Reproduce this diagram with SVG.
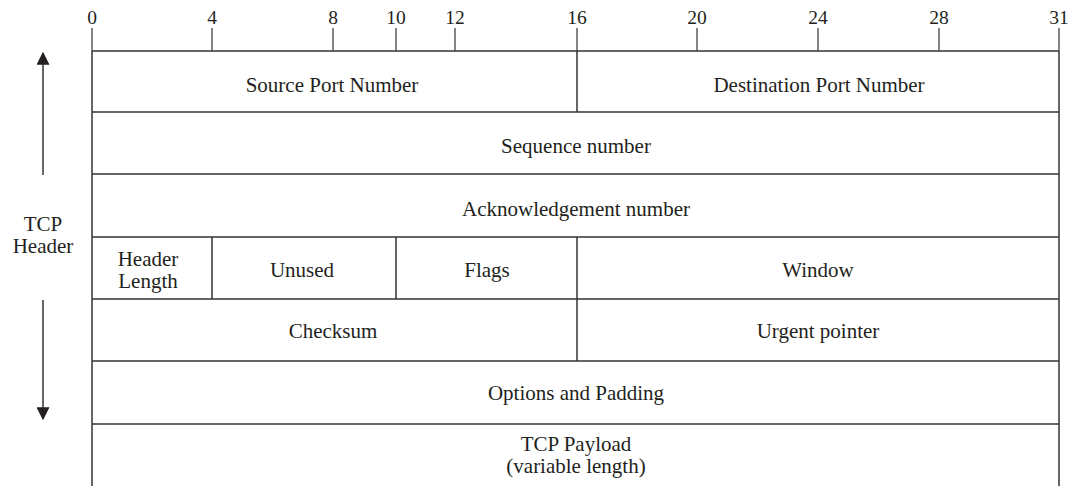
<svg xmlns="http://www.w3.org/2000/svg" width="1082" height="486" viewBox="0 0 1082 486">
<style>
text{font-family:"Liberation Serif","Times New Roman",serif;font-size:21px;fill:#231f20;text-anchor:middle}
text.num{font-size:19.5px}
.ln{stroke:#333;stroke-width:1.5;fill:none}
.tk{stroke:#333;stroke-width:1.2}
</style>
<defs>
<marker id="ah" viewBox="0 0 10 10" refX="9" refY="5" markerWidth="13" markerHeight="13" markerUnits="userSpaceOnUse" orient="auto">
<path d="M0,0 L10,5 L0,10 z" fill="#231f20"/>
</marker>
</defs>
<rect width="1082" height="486" fill="#fff"/>
<g id="ruler">
<line class="tk" x1="92" y1="28" x2="92" y2="51"/>
<line class="tk" x1="212" y1="28" x2="212" y2="51"/>
<line class="tk" x1="333" y1="28" x2="333" y2="51"/>
<line class="tk" x1="396" y1="28" x2="396" y2="51"/>
<line class="tk" x1="455" y1="28" x2="455" y2="51"/>
<line class="tk" x1="577" y1="28" x2="577" y2="51"/>
<line class="tk" x1="697" y1="28" x2="697" y2="51"/>
<line class="tk" x1="818" y1="28" x2="818" y2="51"/>
<line class="tk" x1="939" y1="28" x2="939" y2="51"/>
<line class="tk" x1="1059" y1="28" x2="1059" y2="51"/>
<text class="num" x="92" y="24">0</text>
<text class="num" x="212" y="24">4</text>
<text class="num" x="333" y="24">8</text>
<text class="num" x="396" y="24">10</text>
<text class="num" x="455" y="24">12</text>
<text class="num" x="577" y="24">16</text>
<text class="num" x="697" y="24">20</text>
<text class="num" x="818" y="24">24</text>
<text class="num" x="939" y="24">28</text>
<text class="num" x="1059" y="24">31</text>
</g>
<g id="connectors">
<line class="ln" x1="43" y1="175" x2="43" y2="53" marker-end="url(#ah)"/>
<line class="ln" x1="43" y1="300" x2="43" y2="419" marker-end="url(#ah)"/>
</g>
<g id="header-label">
<text x="43" y="231">TCP</text>
<text x="43" y="253">Header</text>
</g>
<g id="frame">
<line class="ln" x1="92" y1="51" x2="92" y2="486"/>
<line class="ln" x1="1059" y1="51" x2="1059" y2="486"/>
<line class="ln" x1="92" y1="51" x2="1059" y2="51"/>
<line class="ln" x1="92" y1="112" x2="1059" y2="112"/>
<line class="ln" x1="92" y1="174" x2="1059" y2="174"/>
<line class="ln" x1="92" y1="237" x2="1059" y2="237"/>
<line class="ln" x1="92" y1="299" x2="1059" y2="299"/>
<line class="ln" x1="92" y1="361" x2="1059" y2="361"/>
<line class="ln" x1="92" y1="424" x2="1059" y2="424"/>
</g>
<g id="source-port"><text x="332" y="92">Source Port Number</text></g>
<g id="dest-port"><line class="ln" x1="577" y1="51" x2="577" y2="112"/><text x="819" y="92">Destination Port Number</text></g>
<g id="sequence"><text x="576" y="153">Sequence number</text></g>
<g id="ack"><text x="576" y="216">Acknowledgement number</text></g>
<g id="header-length"><text x="148" y="266">Header</text><text x="148" y="288">Length</text></g>
<g id="unused"><line class="ln" x1="212" y1="237" x2="212" y2="299"/><text x="302" y="277">Unused</text></g>
<g id="flags"><line class="ln" x1="396" y1="237" x2="396" y2="299"/><text x="487" y="277">Flags</text></g>
<g id="window"><line class="ln" x1="577" y1="237" x2="577" y2="299"/><text x="818" y="277">Window</text></g>
<g id="checksum"><text x="333" y="338">Checksum</text></g>
<g id="urgent"><line class="ln" x1="577" y1="299" x2="577" y2="361"/><text x="818" y="338">Urgent pointer</text></g>
<g id="options"><text x="576" y="400">Options and Padding</text></g>
<g id="payload"><text x="576" y="451">TCP Payload</text><text x="576" y="473">(variable length)</text></g>
</svg>
